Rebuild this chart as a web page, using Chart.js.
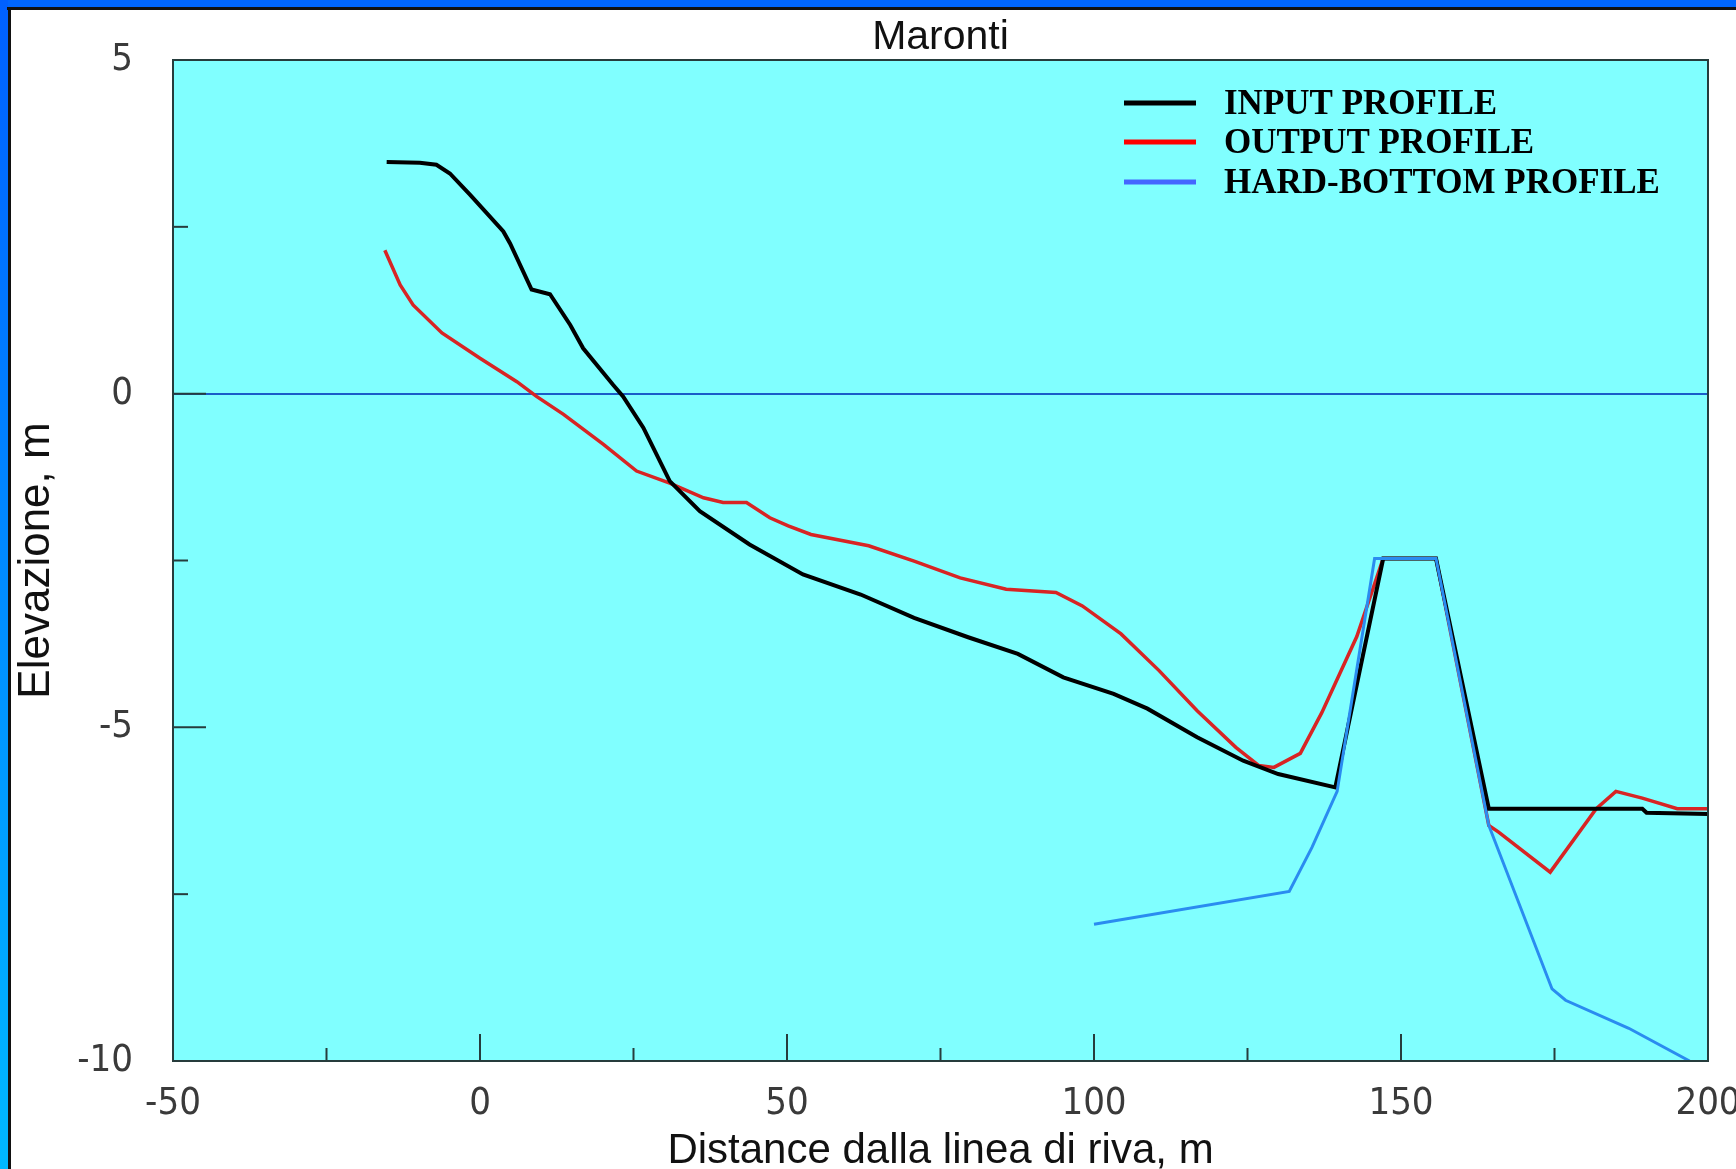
<!DOCTYPE html>
<html>
<head>
<meta charset="utf-8">
<title>Maronti</title>
<script src="https://cdn.jsdelivr.net/npm/chart.js@4.4.1/dist/chart.umd.min.js"></script>
<style>
    html, body { margin: 0; padding: 0; background: #ffffff; }
    #wrap { width: 1736px; height: 1169px; }
</style>
</head>
<body>
<div id="wrap"><canvas id="profileChart" width="1736" height="1169"></canvas></div>
<script>
// Profile data (distance from shoreline in m, elevation in m)
const inputX = [-15.2, -9.8, -7.1, -4.9, -1.6, 3.8, 4.9, 8.4, 11.4, 14.7, 16.8, 21.7, 23.3, 26.6, 30.9, 35.8,
    43.9, 52.6, 62.0, 70.7, 79.5, 87.6, 95.0, 103.2, 108.7, 116.8, 124.3, 130.0, 139.3, 147.1, 155.7, 164.3,
    189.3, 190.0, 200];
const inputY = [3.47, 3.46, 3.43, 3.30, 2.98, 2.43, 2.25, 1.56, 1.49, 1.03, 0.68, 0.13, -0.04, -0.51, -1.31, -1.76,
    -2.26, -2.71, -3.01, -3.36, -3.65, -3.90, -4.25, -4.50, -4.72, -5.15, -5.50, -5.70, -5.90, -2.47, -2.47, -6.22,
    -6.22, -6.28, -6.30];

const outputX = [-15.5, -13.0, -10.9, -6.2, 0.0, 6.0, 9.2, 13.6, 20.1, 25.5, 30.9, 36.4, 39.6, 43.4, 47.2, 50.2,
    53.9, 63.3, 70.7, 78.2, 85.7, 93.8, 98.1, 104.4, 110.6, 116.8, 123.1, 126.8, 129.3, 133.6, 137.1, 142.8,
    147.1, 155.7, 164.3, 165.9, 174.3, 181.8, 185.0, 189.3, 195.0, 200];
const outputY = [2.15, 1.63, 1.33, 0.91, 0.53, 0.18, -0.04, -0.31, -0.76, -1.16, -1.34, -1.56, -1.63, -1.63, -1.86, -1.98,
    -2.11, -2.28, -2.51, -2.76, -2.93, -2.98, -3.18, -3.60, -4.15, -4.75, -5.30, -5.57, -5.60, -5.39, -4.78, -3.64,
    -2.47, -2.47, -6.47, -6.57, -7.17, -6.22, -5.96, -6.06, -6.22, -6.22];

const hardX = [100, 131.8, 135.5, 139.6, 145.7, 155.7, 164.3, 174.6, 176.8, 187.1, 197];
const hardY = [-7.95, -7.46, -6.80, -5.96, -2.47, -2.47, -6.47, -8.92, -9.09, -9.51, -10.0];

const seriesNames = ['INPUT PROFILE', 'OUTPUT PROFILE', 'HARD-BOTTOM PROFILE'];

// Axes
const xMajorTicks = [-50, 0, 50, 100, 150, 200];
const yMajorTicks = [5, 0, -5, -10];

const chartTitle = 'Maronti';
const xTitle = 'Distance dalla linea di riva, m';
const yTitle = 'Elevazione, m';

const toPoints = (xs, ys) => xs.map((x, i) => ({ x: x, y: ys[i] }));

const narrowFont = "'Liberation Sans Narrow', 'DejaVu Sans Condensed', 'Liberation Sans', sans-serif";
const sansFont = "'Liberation Sans', Arial, sans-serif";
const serifFont = "'Liberation Serif', 'Times New Roman', serif";

// Frame, plot background, title, legend and inward tick marks
const decorPlugin = {
    id: 'decor',
    beforeDraw(chart) {
        const { ctx, width, height, chartArea: a } = chart;
        ctx.save();
        ctx.fillStyle = '#ffffff';
        ctx.fillRect(0, 0, width, height);

        // blue frame on top and left
        ctx.fillStyle = '#0066ff';
        ctx.fillRect(0, 0, width, 7);
        const grad = ctx.createLinearGradient(0, 0, 0, height);
        grad.addColorStop(0, '#0060ff');
        grad.addColorStop(1, '#00b8ff');
        ctx.fillStyle = grad;
        ctx.fillRect(0, 0, 8, height);
        ctx.fillStyle = '#111111';
        ctx.fillRect(7, 7, width - 7, 3);
        ctx.fillRect(8, 7, 3, height - 7);

        // plot background
        ctx.fillStyle = '#80ffff';
        ctx.fillRect(a.left, a.top, a.right - a.left, a.bottom - a.top);

        // title
        ctx.fillStyle = '#111111';
        ctx.font = '41px ' + sansFont;
        ctx.textAlign = 'center';
        ctx.textBaseline = 'middle';
        ctx.fillText(chartTitle, (a.left + a.right) / 2, 38);
        ctx.restore();
    },
    afterDatasetsDraw(chart) {
        const { ctx, chartArea: a, scales } = chart;
        ctx.save();
        ctx.strokeStyle = '#263c3c';
        ctx.lineWidth = 2;
        ctx.strokeRect(a.left, a.top, a.right - a.left, a.bottom - a.top);

        // inward tick marks
        ctx.lineWidth = 2;
        scales.x.ticks.forEach(t => {
            const px = scales.x.getPixelForValue(t.value);
            const len = xMajorTicks.includes(t.value) ? 27 : 13;
            ctx.beginPath();
            ctx.moveTo(px, a.bottom);
            ctx.lineTo(px, a.bottom - len);
            ctx.stroke();
        });
        scales.y.ticks.forEach(t => {
            const py = scales.y.getPixelForValue(t.value);
            const len = yMajorTicks.includes(t.value) ? 33 : 15;
            ctx.beginPath();
            ctx.moveTo(a.left, py);
            ctx.lineTo(a.left + len, py);
            ctx.stroke();
        });

        // legend inside the plot, top right
        ctx.font = 'bold 35px ' + serifFont;
        ctx.textAlign = 'left';
        ctx.textBaseline = 'middle';
        const rows = [103, 142, 182];
        chart.data.datasets.forEach((ds, i) => {
            ctx.strokeStyle = ds.legendColor;
            ctx.lineWidth = 5;
            ctx.beginPath();
            ctx.moveTo(1124, rows[i]);
            ctx.lineTo(1196, rows[i]);
            ctx.stroke();
            ctx.fillStyle = '#000000';
            ctx.fillText(ds.label, 1224, rows[i] + 2);
        });
        ctx.restore();
    }
};

const ctx = document.getElementById('profileChart').getContext('2d');
const profileChart = new Chart(ctx, {
    type: 'line',
    data: {
        datasets: [
            {
                label: seriesNames[0],
                data: toPoints(inputX, inputY),
                borderColor: '#000000',
                legendColor: '#000000',
                borderWidth: 4,
                pointRadius: 0,
                tension: 0,
                order: 1
            },
            {
                label: seriesNames[1],
                data: toPoints(outputX, outputY),
                borderColor: '#d82424',
                legendColor: '#ff0000',
                borderWidth: 3.5,
                pointRadius: 0,
                tension: 0,
                order: 2
            },
            {
                label: seriesNames[2],
                data: toPoints(hardX, hardY),
                borderColor: '#2a8cf0',
                legendColor: '#4466ff',
                borderWidth: 3,
                pointRadius: 0,
                tension: 0,
                order: 0
            }
        ]
    },
    options: {
        responsive: false,
        animation: false,
        layout: {
            padding: { top: 60, right: 28, left: 0, bottom: 0 }
        },
        scales: {
            x: {
                type: 'linear',
                min: -50,
                max: 200,
                afterFit: scale => {
                    scale.height = 108;
                    scale.paddingLeft = 0;
                    scale.paddingRight = 0;
                },
                border: { display: false },
                grid: { display: false, drawTicks: false },
                ticks: {
                    stepSize: 25,
                    padding: 20,
                    maxRotation: 0,
                    autoSkip: false,
                    color: '#3a3a3a',
                    font: { family: narrowFont, size: 38 },
                    callback: value => xMajorTicks.includes(value) ? String(value) : ''
                },
                title: {
                    display: true,
                    text: xTitle,
                    color: '#111111',
                    font: { family: sansFont, size: 42, lineHeight: 1.0 },
                    padding: { top: 0, bottom: -3 }
                }
            },
            y: {
                type: 'linear',
                min: -10,
                max: 5,
                afterFit: scale => {
                    scale.width = 173;
                    scale.paddingTop = 0;
                    scale.paddingBottom = 0;
                },
                border: { display: false },
                grid: {
                    drawTicks: false,
                    lineWidth: 2,
                    color: c => (c.tick && c.tick.value === 0) ? '#1a5cc8' : 'rgba(0,0,0,0)'
                },
                ticks: {
                    stepSize: 2.5,
                    padding: 40,
                    autoSkip: false,
                    color: '#3a3a3a',
                    font: { family: narrowFont, size: 38 },
                    callback: value => yMajorTicks.includes(value) ? String(value) : ''
                },
                title: {
                    display: true,
                    text: yTitle,
                    color: '#111111',
                    font: { family: sansFont, size: 44, lineHeight: 1.0 },
                    padding: { top: 15, bottom: 0 }
                }
            }
        },
        plugins: {
            legend: { display: false },
            title: { display: false },
            tooltip: { enabled: false }
        }
    },
    plugins: [decorPlugin]
});
</script>
</body>
</html>
